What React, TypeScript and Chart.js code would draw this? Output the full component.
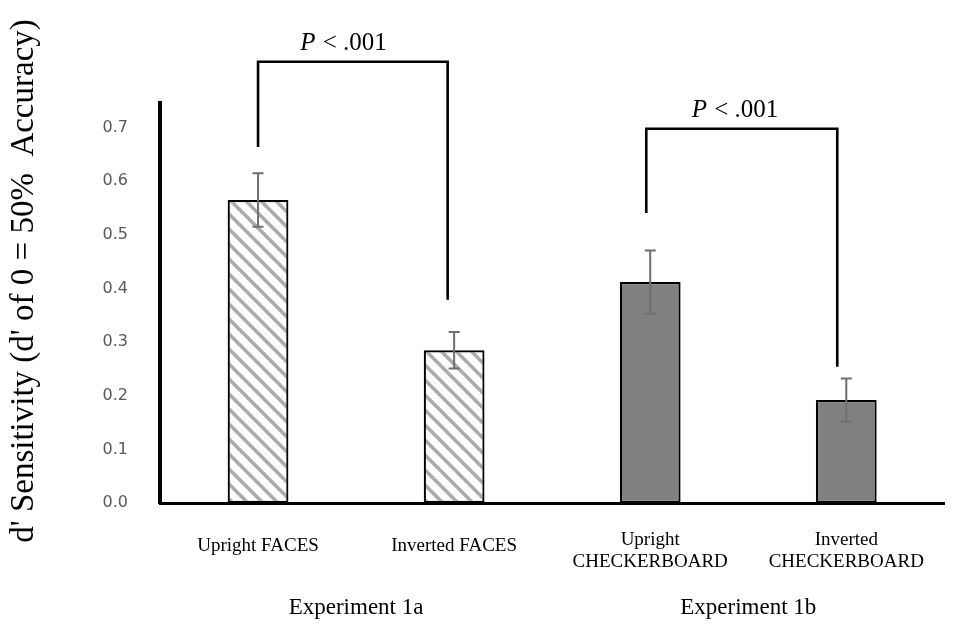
import React, { useEffect, useRef } from 'react';
import { Chart, registerables } from 'chart.js';

Chart.register(...registerables);

// ---- data ----
const categories: (string | string[])[] = [
  'Upright FACES',
  'Inverted FACES',
  ['Upright', 'CHECKERBOARD'],
  ['Inverted', 'CHECKERBOARD'],
];
const sensitivity = [0.565, 0.285, 0.412, 0.192];
const standardError = [0.05, 0.034, 0.059, 0.04];
const hatched = [true, true, false, false];
const experiments = ['Experiment 1a', 'Experiment 1b'];
const yTitle = "d' Sensitivity (d' of 0 = 50%  Accuracy)";
const yMin = 0;
const yMax = 0.746;
const yStep = 0.1;

// significance brackets (category index / data units)
const bracketFrom = [0, 1.98];
const bracketTo = [0.967, 2.954];
const bracketTop = [0.823, 0.698];
const bracketFromEnd = [0.664, 0.541];
const bracketToEnd = [0.379, 0.254];
const bracketText = ['< .001', '< .001'];
const bracketTextX = [0.433, 2.43];
const bracketTextY = [0.858, 0.733];

const SERIF = '"Liberation Serif", "Times New Roman", serif';

function makeHatch(): CanvasPattern | string {
  const s = 15;
  const c = document.createElement('canvas');
  c.width = s;
  c.height = s;
  const g = c.getContext('2d');
  if (!g) return '#ccc';
  g.fillStyle = '#ffffff';
  g.fillRect(0, 0, s, s);
  g.strokeStyle = '#ababab';
  g.lineWidth = 3.6;
  for (const o of [-s, 0, s]) {
    g.beginPath();
    g.moveTo(o - 3, -3);
    g.lineTo(o + s + 3, s + 3);
    g.stroke();
  }
  return g.createPattern(c, 'repeat') || '#ccc';
}

const errorBarPlugin = {
  id: 'errorBars',
  afterDatasetsDraw(chart: any) {
    const ctx = chart.ctx;
    const meta = chart.getDatasetMeta(0);
    const y = chart.scales.y;
    ctx.save();
    ctx.strokeStyle = '#6f6f6f';
    ctx.lineWidth = 2;
    meta.data.forEach((bar: any, i: number) => {
      const x = bar.x;
      const top = y.getPixelForValue(sensitivity[i] + standardError[i]);
      const bot = y.getPixelForValue(sensitivity[i] - standardError[i]);
      ctx.beginPath();
      ctx.moveTo(x, top);
      ctx.lineTo(x, bot);
      ctx.moveTo(x - 5.5, top);
      ctx.lineTo(x + 5.5, top);
      ctx.moveTo(x - 5.5, bot);
      ctx.lineTo(x + 5.5, bot);
      ctx.stroke();
    });
    ctx.restore();
  },
};

const bracketPlugin = {
  id: 'brackets',
  afterDraw(chart: any) {
    const ctx = chart.ctx;
    const xs = chart.scales.x;
    const ys = chart.scales.y;
    ctx.save();
    ctx.strokeStyle = '#000';
    ctx.lineWidth = 2.6;
    ctx.lineCap = 'butt';
    ctx.lineJoin = 'miter';
    for (let i = 0; i < bracketFrom.length; i++) {
      const x1 = xs.getPixelForValue(bracketFrom[i]);
      const x2 = xs.getPixelForValue(bracketTo[i]);
      const yt = ys.getPixelForValue(bracketTop[i]);
      ctx.beginPath();
      ctx.moveTo(x1, ys.getPixelForValue(bracketFromEnd[i]));
      ctx.lineTo(x1, yt);
      ctx.lineTo(x2, yt);
      ctx.lineTo(x2, ys.getPixelForValue(bracketToEnd[i]));
      ctx.stroke();

      const cx = xs.getPixelForValue(bracketTextX[i]);
      const cy = ys.getPixelForValue(bracketTextY[i]);
      ctx.fillStyle = '#000';
      ctx.textBaseline = 'middle';
      ctx.textAlign = 'left';
      const italic = 'italic 25px ' + SERIF;
      const normal = '25px ' + SERIF;
      ctx.font = italic;
      const wP = ctx.measureText('P').width;
      ctx.font = normal;
      const rest = ' ' + bracketText[i];
      const wR = ctx.measureText(rest).width;
      const start = cx - (wP + wR) / 2;
      ctx.font = italic;
      ctx.fillText('P', start, cy);
      ctx.font = normal;
      ctx.fillText(rest, start + wP + 1, cy);
    }
    ctx.restore();
  },
};

const yTitlePlugin = {
  id: 'yTitle',
  afterDraw(chart: any) {
    const ctx = chart.ctx;
    ctx.save();
    ctx.translate(24, 281);
    ctx.rotate(-Math.PI / 2);
    ctx.fillStyle = '#000';
    ctx.textAlign = 'center';
    ctx.textBaseline = 'middle';
    ctx.font = '33px ' + SERIF;
    ctx.fillText(yTitle, 0, 0);
    ctx.restore();
  },
};

export default function App() {
  const ref = useRef<HTMLCanvasElement | null>(null);

  useEffect(() => {
    if (!ref.current) return;
    const hatch = makeHatch();
    const colors = hatched.map((h) => (h ? hatch : '#808080'));
    const chart = new Chart(ref.current, {
      type: 'bar',
      data: {
        labels: categories as any,
        datasets: [
          {
            data: sensitivity,
            backgroundColor: colors as any,
            borderColor: '#000',
            borderWidth: 2.2,
            borderSkipped: false,
            barPercentage: 0.31,
            categoryPercentage: 1,
            xAxisID: 'x',
          },
        ],
      },
      options: {
        responsive: false,
        animation: false,
        events: [],
        layout: { padding: { left: 0, right: 17, top: 103, bottom: 0 } },
        plugins: {
          legend: { display: false },
          tooltip: { enabled: false },
          title: { display: false },
        },
        scales: {
          x: {
            type: 'category',
            position: 'bottom',
            offset: true,
            grid: { display: false, drawTicks: false },
            border: { display: true, color: '#000', width: 3 },
            ticks: {
              color: '#000',
              padding: 37,
              maxRotation: 0,
              autoSkip: false,
              crossAlign: 'center',
              font: (ctx: any) => ({
                family: SERIF,
                size: 19,
                lineHeight: Array.isArray(categories[ctx.index]) ? 1.15 : 1.67,
              }),
            },
            afterFit: (s: any) => {
              s.height = 65;
            },
          },
          x2: {
            type: 'category',
            position: 'bottom',
            offset: true,
            labels: experiments,
            grid: { display: false, drawTicks: false },
            border: { display: false },
            ticks: {
              color: '#000',
              padding: 26,
              maxRotation: 0,
              autoSkip: false,
              font: { family: SERIF, size: 23, lineHeight: 1.2 },
            },
            afterFit: (s: any) => {
              s.height = 64;
            },
          },
          y: {
            type: 'linear',
            min: yMin,
            max: yMax,
            grid: { display: false, drawTicks: false },
            border: { display: true, color: '#000', width: 4 },
            ticks: {
              stepSize: yStep,
              color: '#595959',
              padding: 32,
              font: { family: '"DejaVu Sans", sans-serif', size: 16 },
              callback: (v: any) => {
                const n = Number(v);
                return Math.abs(n * 10 - Math.round(n * 10)) < 1e-6 ? n.toFixed(1) : '';
              },
            },
            title: { display: false },
            afterFit: (s: any) => {
              s.width = 160;
            },
          },
        },
      },
      plugins: [errorBarPlugin, bracketPlugin, yTitlePlugin],
    });
    return () => chart.destroy();
  }, []);

  return (
    <div style={{ position: 'absolute', left: 0, top: 0, width: 963, height: 632, background: '#fff' }}>
      <canvas ref={ref} width={963} height={632} style={{ display: 'block', width: 963, height: 632 }} />
    </div>
  );
}
